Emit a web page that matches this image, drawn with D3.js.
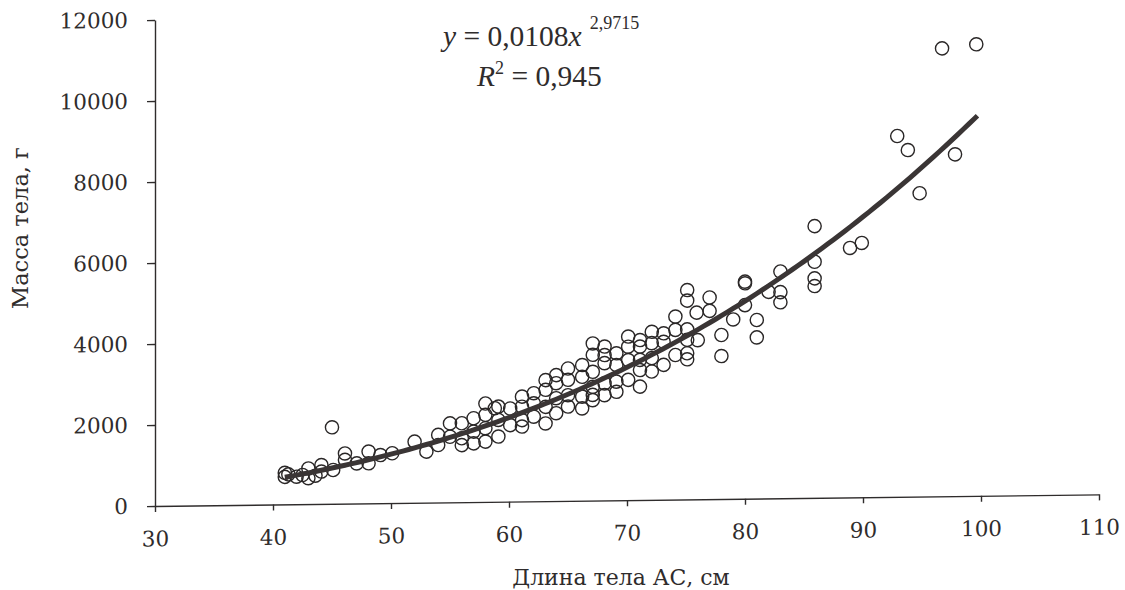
<!DOCTYPE html>
<html>
<head>
<meta charset="utf-8">
<script src="https://cdn.jsdelivr.net/npm/d3@7"></script>
<style>
  body { margin: 0; background: #fff; }
</style>
</head>
<body>
<div id="chart"></div>
<script>
// body length (cm) and body mass (g)
const lengths = [41.0, 41.0, 42.0, 43.0, 43.0, 44.1, 44.1, 45.1, 45.0, 41.3, 42.5, 43.6,
  46.1, 46.1, 47.1, 48.1, 48.1, 49.1, 50.1, 52.0, 53.0, 54.0, 54.0,
  55.0, 55.0, 56.0, 56.0, 56.0, 57.0, 57.0, 57.0, 58.0, 58.0, 58.0, 58.0, 58.8,
  59.1, 59.1, 59.1, 60.1, 60.1, 61.1, 61.1, 61.1, 61.1, 62.1, 62.1, 62.1,
  63.1, 63.1, 63.1, 63.1, 64.0, 64.0, 64.0, 64.0, 65.0, 65.0, 65.0, 65.0,
  66.2, 66.2, 66.2, 66.2, 67.1, 67.1, 67.1, 67.1, 67.1, 67.1,
  68.1, 68.1, 68.1, 68.1, 68.1, 69.1, 69.1, 69.1, 69.1,
  70.1, 70.1, 70.1, 70.1, 71.1, 71.1, 71.1, 71.1, 71.1,
  72.1, 72.1, 72.1, 72.1, 73.1, 73.1, 73.1, 74.1, 74.1, 74.1,
  75.1, 75.1, 75.1, 75.1, 75.1, 75.1, 75.9, 76.0, 77.0, 77.0,
  78.0, 78.0, 79.0, 80.0, 80.0, 80.0, 81.0, 81.0, 82.0, 83.0, 83.0, 83.0,
  85.9, 85.9, 85.9, 85.9, 88.9, 89.9, 92.9, 93.8, 94.8, 96.7, 97.8, 99.6];
const masses = [780, 680, 680, 880, 640, 960, 800, 835, 1890, 740, 720, 700,
  1240, 1080, 990, 1280, 990, 1190, 1230, 1510, 1260, 1670, 1420,
  1950, 1620, 1950, 1580, 1410, 2070, 1740, 1450, 2430, 2150, 1820, 1490, 2310,
  2350, 2020, 1610, 2300, 1890, 2590, 2340, 2010, 1850, 2670, 2420, 2090,
  2990, 2750, 2330, 1920, 3110, 2910, 2540, 2170, 3270, 2990, 2610, 2330,
  3350, 3060, 2570, 2280, 3880, 3600, 3180, 2810, 2610, 2480,
  3800, 3590, 3390, 2890, 2600, 3630, 3340, 2930, 2680,
  4040, 3790, 3460, 2970, 3950, 3790, 3460, 3210, 2800,
  4150, 3870, 3500, 3170, 4110, 3900, 3330, 4520, 4190, 3570,
  5170, 4910, 4200, 3940, 3610, 3460, 4610, 3930, 4980, 4650,
  4050, 3530, 4430, 5360, 5320, 4780, 4410, 3980, 5100, 5600, 5090, 4840,
  6710, 5830, 5420, 5230, 6160, 6280, 8910, 8560, 7490, 11060, 8440, 11150];

const xTicks = [30, 40, 50, 60, 70, 80, 90, 100, 110];
const yTicks = [0, 2000, 4000, 6000, 8000, 10000, 12000];

// power trend y = a * x^b shown on the chart
const FIT_A = 0.0108;
const FIT_B = 2.9715;
const FIT_FROM = 41;
const FIT_TO = 99.7;

const WIDTH = 1125;
const HEIGHT = 590;
const INK = "#2f2c2c";

let svg = d3.select("#chart")
  .append("svg")
    .attr("width", WIDTH)
    .attr("height", HEIGHT);

let x = d3.scaleLinear().domain([30, 110]).range([155, 1099]);
let y = d3.scaleLinear().domain([0, 12000]).range([506, 20]);

// the scanned page is slightly skewed: horizontals climb to the right
let plot = svg.append("g")
  .attr("transform", "translate(155,506) skewY(-0.705) translate(-155,-506)");

// y axis
let yAxis = plot.append("g")
  .attr("transform", "translate(" + x(30) + ",0)")
  .call(d3.axisLeft(y).tickValues(yTicks).tickFormat(d3.format("d"))
    .tickSize(8).tickSizeOuter(0).tickPadding(19));

// x axis
let xAxis = plot.append("g")
  .attr("transform", "translate(0," + y(0) + ")")
  .call(d3.axisBottom(x).tickValues(xTicks).tickFormat(d3.format("d"))
    .tickSize(6).tickSizeOuter(0).tickPadding(19));

[yAxis, xAxis].forEach(function(ax) {
  ax.select(".domain").attr("stroke", INK).attr("stroke-width", 1.4);
  ax.selectAll(".tick line").attr("stroke", INK).attr("stroke-width", 1.4);
  ax.selectAll(".tick text")
    .attr("fill", INK)
    .style("font-family", "'DejaVu Serif', serif")
    .style("font-size", "21.5px");
});

// points
plot.append("g")
  .selectAll("circle")
  .data(lengths.map(function(d, i) { return [d, masses[i]]; }))
  .enter()
  .append("circle")
    .attr("cx", function(d) { return x(d[0]); })
    .attr("cy", function(d) { return y(d[1]); })
    .attr("r", 6.6)
    .attr("fill", "none")
    .attr("stroke", "#2a2727")
    .attr("stroke-width", 1.4);

// trend curve
let fit = d3.range(FIT_FROM, FIT_TO, 0.5).concat([FIT_TO])
  .map(function(v) { return [v, FIT_A * Math.pow(v, FIT_B)]; });

plot.append("path")
  .datum(fit)
  .attr("fill", "none")
  .attr("stroke", "#3a3535")
  .attr("stroke-width", 5)
  .attr("stroke-linecap", "butt")
  .attr("d", d3.line()
    .x(function(d) { return x(d[0]); })
    .y(function(d) { return y(d[1]); }));

// axis titles
svg.append("text")
  .attr("x", 621)
  .attr("y", 585)
  .attr("text-anchor", "middle")
  .attr("fill", INK)
  .style("font-family", "'DejaVu Serif', serif")
  .style("font-size", "22px")
  .text("Длина тела АС, см");

svg.append("text")
  .attr("transform", "translate(28,228) rotate(-90)")
  .attr("text-anchor", "middle")
  .attr("fill", INK)
  .style("font-family", "'DejaVu Serif', serif")
  .style("font-size", "22.5px")
  .text("Масса тела, г");

// equation
let eq = svg.append("text")
  .attr("x", 443)
  .attr("y", 46)
  .attr("fill", INK)
  .style("font-family", "'Liberation Serif', serif")
  .style("font-size", "29.5px");
eq.append("tspan").style("font-style", "italic").text("y");
eq.append("tspan").text(" = 0,0108");
eq.append("tspan").style("font-style", "italic").text("x");
eq.append("tspan").attr("dx", 8).attr("dy", -17).style("font-size", "18px").text("2,9715");

let r2 = svg.append("text")
  .attr("x", 477)
  .attr("y", 86)
  .attr("fill", INK)
  .style("font-family", "'Liberation Serif', serif")
  .style("font-size", "29.5px");
r2.append("tspan").style("font-style", "italic").text("R");
r2.append("tspan").attr("dy", -12).style("font-size", "18px").text("2");
r2.append("tspan").attr("dy", 12).text(" = 0,945");
</script>
</body>
</html>
